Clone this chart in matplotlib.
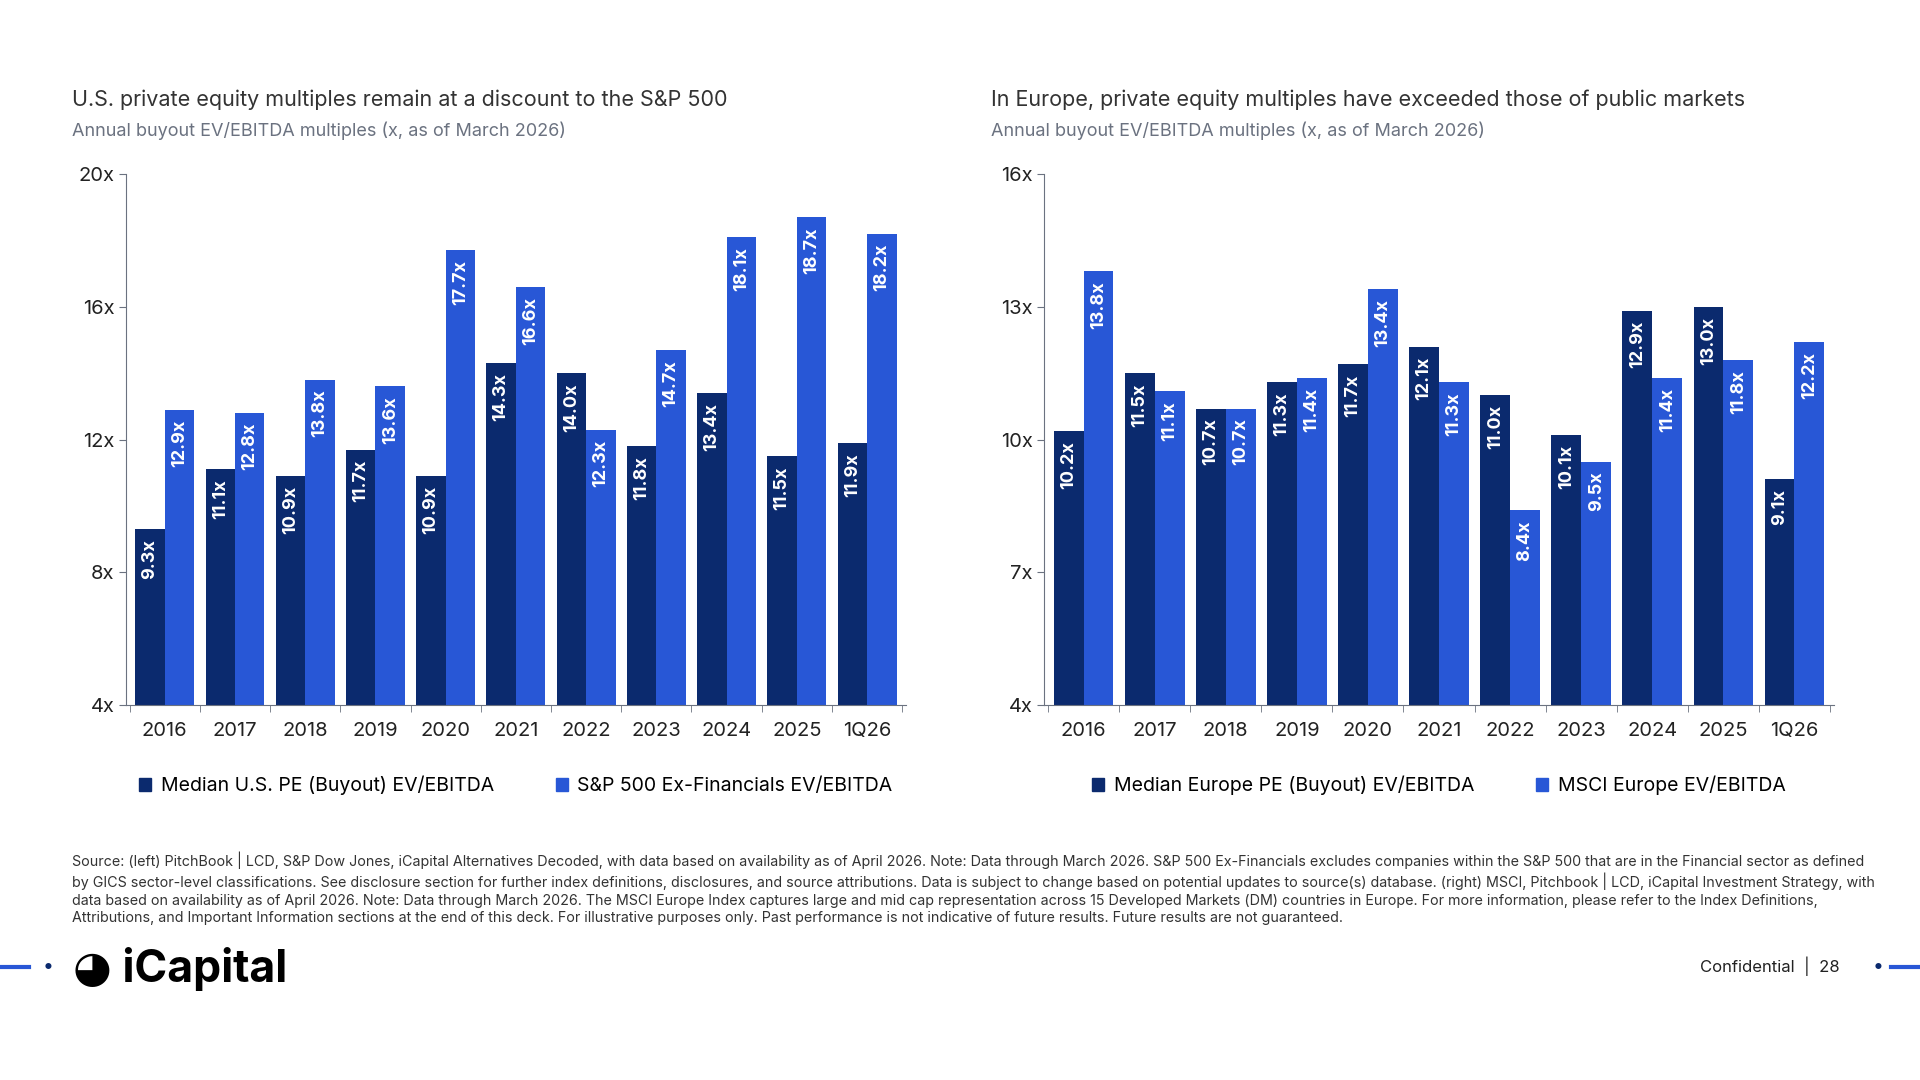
import matplotlib.pyplot as plt
import numpy as np

plt.rcParams['font.family'] = ['Inter', 'DejaVu Sans']

years = ['2016', '2017', '2018', '2019', '2020', '2021', '2022', '2023', '2024', '2025', '1Q26']
us_pe = [9.3, 11.1, 10.9, 11.7, 10.9, 14.3, 14.0, 11.8, 13.4, 11.5, 11.9]
sp500 = [12.9, 12.8, 13.8, 13.6, 17.7, 16.6, 12.3, 14.7, 18.1, 18.7, 18.2]
eu_pe = [10.2, 11.5, 10.7, 11.3, 11.7, 12.1, 11.0, 10.1, 12.9, 13.0, 9.1]
msci = [13.8, 11.1, 10.7, 11.4, 13.4, 11.3, 8.4, 9.5, 11.4, 11.8, 12.2]

NAVY = '#0b2a6e'
BLUE = '#2857d6'
GREY = '#6b7280'
TXT = '#222222'

fig = plt.figure(figsize=(19.2, 10.8), dpi=100)


def panel(rect, a, b, ymin, ymax, ticks, title, labels):
    ax = fig.add_axes(rect)
    x = np.arange(len(years))
    w = 0.42
    for xs, vals, col in [(x - w / 2, a, NAVY), (x + w / 2, b, BLUE)]:
        ax.bar(xs, np.array(vals) - ymin, bottom=ymin, width=w, color=col)
        for xi, v in zip(xs, vals):
            ax.text(xi, v - 0.3 * (ymax - ymin) / 16, f'{v:.1f}x', rotation=90,
                    ha='center', va='top', color='white', fontsize=13, fontweight='bold')
    ax.set_ylim(ymin, ymax)
    ax.set_xlim(-0.55, len(years) - 0.45)
    ax.set_yticks(ticks)
    ax.set_yticklabels([f'{t}x' for t in ticks], fontsize=14.5, color=TXT)
    ax.set_xticks(x)
    ax.set_xticklabels(years, fontsize=14.5, color=TXT)
    ax.set_xticks(np.arange(len(years) + 1) - 0.5, minor=True)
    ax.tick_params(axis='x', which='major', length=0, pad=12)
    ax.tick_params(axis='x', which='minor', length=5, color=GREY)
    ax.tick_params(axis='y', length=5, color=GREY)
    for s in ['top', 'right']:
        ax.spines[s].set_visible(False)
    for s in ['left', 'bottom']:
        ax.spines[s].set_color(GREY)
    x0 = rect[0] - 0.028
    fig.text(x0, 0.908, title, fontsize=15.5, color='#333333', va='center')
    fig.text(x0, 0.879, 'Annual buyout EV/EBITDA multiples (x, as of March 2026)',
             fontsize=13, color=GREY, va='center')
    handles = [plt.Rectangle((0, 0), 1, 1, color=NAVY), plt.Rectangle((0, 0), 1, 1, color=BLUE)]
    ax.legend(handles, labels, loc='upper center', bbox_to_anchor=(0.5, -0.1), ncol=2,
              frameon=False, fontsize=14, handlelength=0.6, handleheight=0.6,
              columnspacing=3.2, handletextpad=0.5)
    return ax


panel([0.0657, 0.347, 0.406, 0.492], us_pe, sp500, 4, 20, [4, 8, 12, 16, 20],
      'U.S. private equity multiples remain at a discount to the S&P 500',
      ['Median U.S. PE (Buyout) EV/EBITDA', 'S&P 500 Ex-Financials EV/EBITDA'])
panel([0.544, 0.347, 0.411, 0.492], eu_pe, msci, 4, 16, [4, 7, 10, 13, 16],
      'In Europe, private equity multiples have exceeded those of public markets',
      ['Median Europe PE (Buyout) EV/EBITDA', 'MSCI Europe EV/EBITDA'])

footnote = (
    "Source: (left) PitchBook | LCD, S&P Dow Jones, iCapital Alternatives Decoded, with data based on availability as of April 2026. Note: Data through March 2026. S&P 500 Ex-Financials excludes companies within the S&P 500 that are in the Financial sector as defined\n"
    "by GICS sector-level classifications. See disclosure section for further index definitions, disclosures, and source attributions. Data is subject to change based on potential updates to source(s) database. (right) MSCI, Pitchbook | LCD, iCapital Investment Strategy, with\n"
    "data based on availability as of April 2026. Note: Data through March 2026. The MSCI Europe Index captures large and mid cap representation across 15 Developed Markets (DM) countries in Europe. For more information, please refer to the Index Definitions,\n"
    "Attributions, and Important Information sections at the end of this deck. For illustrative purposes only. Past performance is not indicative of future results. Future results are not guaranteed.")
fig.text(0.0375, 0.212, footnote, fontsize=10.3, color='#333333', va='top', linespacing=1.3)

# footer
fig.add_artist(plt.Line2D([0, 0.015], [0.105, 0.105], color=BLUE, lw=3))
fig.add_artist(plt.Line2D([0.985, 1], [0.105, 0.105], color=BLUE, lw=3))
fig.text(0.025, 0.105, '•', fontsize=14, color=NAVY, va='center', ha='center')
fig.text(0.978, 0.105, '•', fontsize=14, color=NAVY, va='center', ha='center')
fig.text(0.038, 0.103, '\u25D5 iCapital', fontsize=32, fontweight='bold', color='black', va='center')
fig.text(0.958, 0.105, 'Confidential  |  28', fontsize=12, color=TXT, va='center', ha='right')

fig.savefig('out.png', dpi=100)
